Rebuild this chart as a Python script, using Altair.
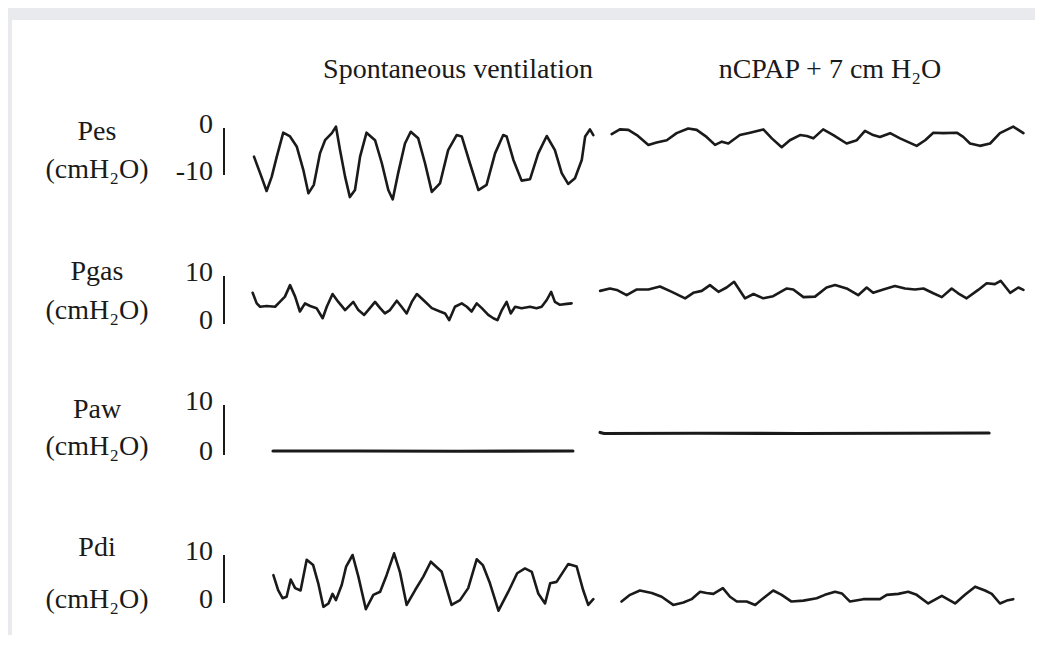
import altair as alt
import pandas as pd

# ---------------- data: time (s) and pressure (cmH2O) ----------------
pes_sp_t = [0.00, 0.18, 0.37, 0.52, 0.67, 0.86, 1.06, 1.26, 1.45, 1.60, 1.76, 1.94, 2.09, 2.29, 2.41,
            2.53, 2.68, 2.82, 2.97, 3.12, 3.31, 3.56, 3.76, 3.95, 4.08, 4.24, 4.44, 4.61, 4.83, 5.03,
            5.23, 5.47, 5.71, 5.96, 6.11, 6.35, 6.60, 6.84, 7.09, 7.33, 7.43, 7.63, 7.87, 8.12, 8.36,
            8.61, 8.85, 9.05, 9.24, 9.44, 9.64, 9.74, 9.88, 9.98]
pes_sp_v = [-6.1, -9.6, -13.4, -10.4, -6.1, -1.0, -1.8, -4.0, -8.9, -13.9, -12.1, -5.4, -2.6, -1.1, 0.3,
            -4.7, -10.4, -14.7, -13.2, -6.1, -1.0, -2.6, -7.5, -13.2, -15.2, -9.6, -3.3, -0.8, -2.2, -7.5,
            -13.6, -11.8, -4.7, -1.5, -1.8, -7.5, -13.2, -12.1, -5.4, -1.5, -1.8, -6.8, -11.2, -10.9, -5.4,
            -1.7, -4.7, -9.6, -11.9, -10.7, -6.8, -1.8, -0.3, -1.5]

pes_cp_t = [10.52, 10.76, 11.01, 11.26, 11.60, 11.84, 12.14, 12.43, 12.77, 13.02, 13.31, 13.56, 13.76,
            13.95, 14.29, 14.59, 14.98, 15.23, 15.52, 15.76, 16.06, 16.26, 16.45, 16.74, 17.04, 17.43,
            17.73, 17.97, 18.21, 18.41, 18.71, 19.00, 19.49, 19.74, 19.98, 20.27, 20.67, 20.86, 21.06,
            21.35, 21.65, 21.94, 22.33, 22.63]
pes_cp_v = [-1.3, -0.3, -0.4, -1.5, -3.6, -3.1, -2.6, -1.1, -0.1, -0.4, -1.9, -3.6, -2.9,
            -3.3, -1.5, -1.0, -0.3, -2.2, -4.1, -2.6, -1.5, -1.7, -2.2, -0.3, -1.5, -3.3,
            -2.6, -0.6, -1.5, -1.9, -1.1, -2.2, -3.8, -2.6, -1.0, -1.1, -1.0, -1.9, -3.3,
            -3.8, -3.3, -1.1, 0.3, -1.1]

pgas_sp_t = [-0.04, 0.08, 0.18, 0.37, 0.62, 0.76, 0.91, 1.06, 1.21, 1.35, 1.50, 1.65, 1.84, 2.02, 2.14,
             2.31, 2.48, 2.68, 2.92, 3.07, 3.24, 3.36, 3.56, 3.71, 3.85, 4.00, 4.20, 4.34, 4.49, 4.64,
             4.79, 4.98, 5.23, 5.47, 5.62, 5.74, 5.91, 6.11, 6.26, 6.40, 6.55, 6.70, 6.89, 7.04, 7.16,
             7.29, 7.43, 7.55, 7.68, 7.87, 8.12, 8.31, 8.46, 8.61, 8.74, 8.85, 9.00, 9.20, 9.34]
pgas_sp_v = [6.5, 4.3, 3.6, 3.75, 3.6, 4.6, 5.7, 8.1, 5.7, 2.6, 4.3, 3.75, 3.3, 1.2, 3.6,
             6.25, 4.6, 2.9, 4.6, 2.9, 1.9, 2.9, 4.6, 3.3, 2.2, 2.9, 4.85, 3.6, 2.2, 4.6,
             6.25, 5.0, 3.3, 2.6, 2.2, 0.8, 3.6, 4.3, 3.6, 2.6, 4.3, 3.3, 1.9, 1.2, 0.8,
             2.9, 4.6, 2.2, 3.6, 3.3, 3.6, 3.3, 3.6, 5.0, 6.7, 4.6, 4.0, 4.2, 4.3]

pgas_cp_t = [10.18, 10.47, 10.67, 10.96, 11.26, 11.60, 11.94, 12.29, 12.68, 12.92, 13.17, 13.41, 13.66,
             13.90, 14.12, 14.44, 14.69, 14.98, 15.27, 15.67, 15.86, 16.16, 16.50, 16.84, 17.09, 17.43,
             17.77, 18.02, 18.21, 18.51, 18.85, 19.15, 19.44, 19.69, 19.98, 20.23, 20.52, 20.71, 20.96,
             21.30, 21.55, 21.79, 21.96, 22.24, 22.48, 22.63]
pgas_cp_v = [6.9, 7.4, 7.1, 6.0, 7.2, 7.2, 7.8, 6.7, 5.35, 6.5, 6.9, 8.1, 6.7,
             7.6, 8.8, 5.35, 6.25, 5.35, 5.8, 7.4, 7.2, 5.6, 5.7, 7.6, 8.1, 7.4,
             6.0, 7.6, 6.5, 7.2, 7.9, 7.4, 7.2, 7.4, 6.4, 5.6, 7.4, 6.4, 5.35,
             7.1, 8.5, 8.3, 9.0, 6.5, 7.6, 7.1]

paw_sp_t = [0.56, 3.00, 6.00, 9.38]
paw_sp_v = [0.8, 0.8, 0.75, 0.8]
paw_cp_t = [10.18, 10.30, 13.00, 16.00, 19.00, 21.62]
paw_cp_v = [4.5, 4.3, 4.35, 4.3, 4.35, 4.4]

pdi_sp_t = [0.57, 0.71, 0.84, 0.96, 1.08, 1.21, 1.37, 1.55, 1.74, 1.89, 2.04, 2.19, 2.31, 2.41, 2.58,
            2.71, 2.90, 3.07, 3.29, 3.51, 3.71, 3.90, 4.12, 4.29, 4.49, 4.74, 4.98, 5.20, 5.52, 5.81,
            6.06, 6.30, 6.55, 6.73, 6.94, 7.19, 7.48, 7.74, 7.97, 8.17, 8.36, 8.56, 8.71, 8.90, 9.24,
            9.49, 9.68, 9.83, 9.98]
pdi_sp_v = [5.8, 2.7, 1.0, 1.3, 4.9, 3.1, 2.6, 9.0, 7.9, 4.1, -0.8, -0.1, 1.9, 0.6, 3.75,
            7.6, 10.0, 5.5, -1.3, 1.7, 2.35, 5.8, 10.35, 6.5, -0.4, 2.7, 5.5, 8.6, 6.5, -0.4,
            0.6, 3.1, 9.1, 7.9, 4.1, -1.6, 2.35, 6.2, 7.2, 6.5, 2.0, -0.1, 4.1, 4.4, 8.1,
            7.6, 2.7, -0.4, 0.8]

pdi_cp_t = [10.81, 11.06, 11.35, 11.70, 11.99, 12.33, 12.63, 12.87, 13.12, 13.31, 13.51, 13.79, 14.00,
            14.20, 14.49, 14.74, 14.98, 15.27, 15.52, 15.81, 16.16, 16.55, 16.79, 17.09, 17.29, 17.53,
            17.92, 18.41, 18.61, 18.95, 19.24, 19.49, 19.83, 20.23, 20.62, 20.91, 21.21, 21.50, 21.70,
            21.94, 22.14, 22.33]
pdi_cp_v = [0.3, 1.7, 2.6, 2.1, 1.3, -0.4, 0.1, 0.8, 2.35, 2.1, 1.9, 3.1, 1.3,
            0.3, 0.3, -0.4, 1.0, 2.6, 1.7, 0.3, 0.5, 1.0, 1.7, 2.35, 2.0, 0.3,
            0.8, 0.8, 1.7, 1.9, 2.35, 1.7, -0.1, 1.5, -0.1, 1.7, 3.4, 2.6, 1.9,
            -0.1, 0.5, 0.8]

row_names = ["Pes", "Pgas", "Paw", "Pdi"]
unit_label = "(cmH\u2082O)"
scale_lo = [-10, 0, 0, 0]
scale_hi = [0, 10, 10, 10]
condition_titles = ["Spontaneous ventilation", "nCPAP + 7 cm H\u2082O"]

traces = {
    "Pes": [(pes_sp_t, pes_sp_v), (pes_cp_t, pes_cp_v)],
    "Pgas": [(pgas_sp_t, pgas_sp_v), (pgas_cp_t, pgas_cp_v)],
    "Paw": [(paw_sp_t, paw_sp_v), (paw_cp_t, paw_cp_v)],
    "Pdi": [(pdi_sp_t, pdi_sp_v), (pdi_cp_t, pdi_cp_v)],
}

# ---------------- layout (page pixels) ----------------
FONT = "Liberation Serif"
FS = 28
VIEW_LEFT = 12          # page x where views start
VIEW_W = 1023
T0_PAGE = 254           # page x of t = 0
PX_PER_S = 34.0
x_dom = [(VIEW_LEFT - T0_PAGE) / PX_PER_S, (VIEW_LEFT + VIEW_W - T0_PAGE) / PX_PER_S]

row_top = [20, 232, 380, 505]
row_bot = [232, 380, 505, 635]
zero_page_y = [128, 324, 455, 603]   # page y of the reference end of each scale bar
px_per_unit = [4.7, 4.8, 5.0, 4.8]
name_y = [132, 272, 410, 548]
unit_y = [170, 311, 447, 600]
title_x = [458, 830]
LABEL_X = 97
BAR_X = 224
TICK_X = 213
LINE_W = [2.6, 2.6, 3.2, 2.6]
INK = "#1a1a1a"

x_enc = alt.X("t:Q", scale=alt.Scale(domain=x_dom, nice=False, zero=False), axis=None)

rows = []
for i, name in enumerate(row_names):
    top, bot = row_top[i], row_bot[i]
    h = bot - top
    k = px_per_unit[i]
    ref_val = scale_hi[i] if name == "Pes" else scale_lo[i]
    v_top = ref_val + (zero_page_y[i] - top) / k
    v_bot = ref_val - (bot - zero_page_y[i]) / k
    ysc = alt.Scale(domain=[v_bot, v_top], nice=False, zero=False)

    recs = []
    for s, (tt, vv) in enumerate(traces[name]):
        for a, b in zip(tt, vv):
            recs.append({"t": a, "v": b, "seg": s})
    df = pd.DataFrame(recs)

    line = alt.Chart(df).mark_line(color=INK, strokeWidth=LINE_W[i], strokeJoin="round",
                                   strokeCap="round").encode(
        x=x_enc, y=alt.Y("v:Q", scale=ysc, axis=None), detail="seg:N")

    bar = alt.Chart(pd.DataFrame({"lo": [scale_lo[i]], "hi": [scale_hi[i]]})).mark_rule(
        color=INK, strokeWidth=2).encode(
        x=alt.value(BAR_X - VIEW_LEFT),
        y=alt.Y("lo:Q", scale=ysc, axis=None), y2="hi:Q")

    ticks = alt.Chart(pd.DataFrame({"v": [scale_lo[i], scale_hi[i]],
                                    "lab": [str(scale_lo[i]), str(scale_hi[i])]})).mark_text(
        font=FONT, fontSize=FS, color=INK, align="right", baseline="middle", dy=-3).encode(
        x=alt.value(TICK_X - VIEW_LEFT), y=alt.Y("v:Q", scale=ysc, axis=None), text="lab:N")

    labels = alt.Chart(pd.DataFrame({"lab": [name, unit_label],
                                     "yy": [name_y[i] - top, unit_y[i] - top]})).mark_text(
        font=FONT, fontSize=FS, color=INK, align="center", baseline="middle").encode(
        x=alt.value(LABEL_X - VIEW_LEFT),
        y=alt.Y("yy:Q", scale=alt.Scale(domain=[0, h], range=[0, h]), axis=None),
        text="lab:N")

    layers = [line, bar, ticks, labels]
    if i == 0:
        heads = alt.Chart(pd.DataFrame({"lab": condition_titles,
                                        "xx": [title_x[0] - VIEW_LEFT, title_x[1] - VIEW_LEFT]})).mark_text(
            font=FONT, fontSize=FS, color=INK, align="center", baseline="middle").encode(
            x=alt.X("xx:Q", scale=alt.Scale(domain=[0, VIEW_W], range=[0, VIEW_W]), axis=None),
            y=alt.value(70 - top), text="lab:N")
        layers.append(heads)

    rows.append(alt.layer(*layers).resolve_scale(x="independent", y="independent")
                .properties(width=VIEW_W, height=h))

chart = alt.vconcat(*rows, spacing=0).properties(
    background="#e9eaee",
    padding={"left": 4, "top": 12, "right": 0, "bottom": 0},
).configure_view(fill="white", strokeWidth=0)

chart.save("out.html", embed_options={"renderer": "svg", "actions": False})
